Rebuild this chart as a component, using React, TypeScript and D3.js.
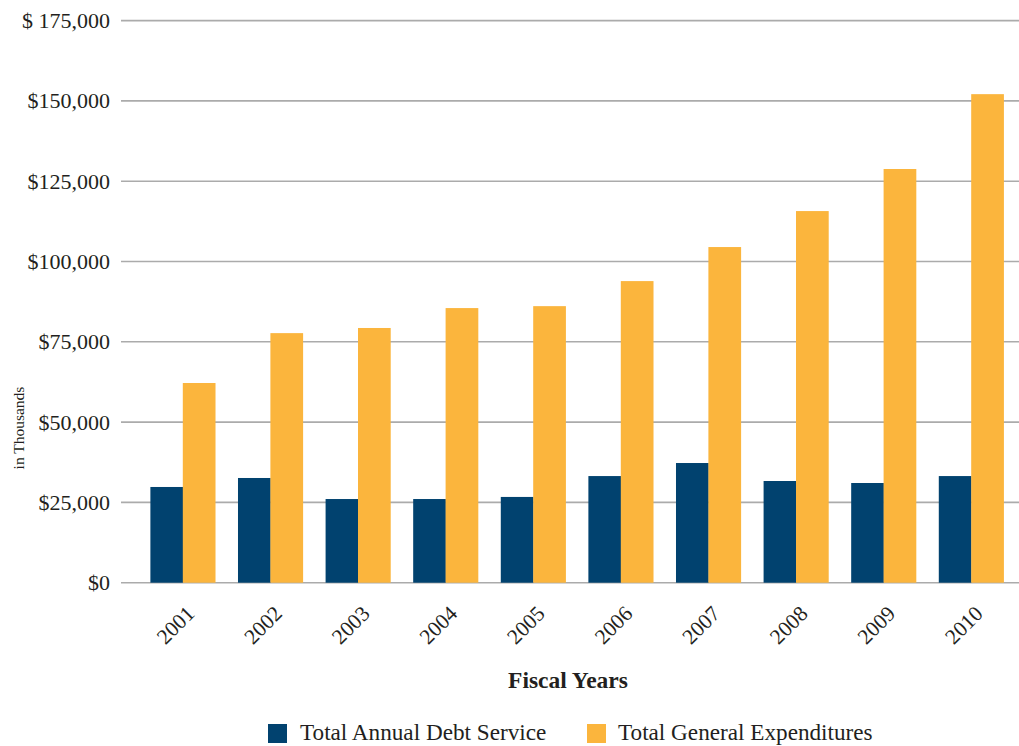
import React from "react";
import * as d3 from "d3";

const years = ["2001", "2002", "2003", "2004", "2005", "2006", "2007", "2008", "2009", "2010"];
const debtService = [29800, 32600, 26050, 26050, 26700, 33200, 37260, 31660, 31040, 33200];
const generalExpenditures = [62170, 77700, 79300, 85500, 86100, 93900, 104500, 115700, 128800, 152100];
const yTicks = [0, 25000, 50000, 75000, 100000, 125000, 150000, 175000];
const yTickLabels = ["$0", "$25,000", "$50,000", "$75,000", "$100,000", "$125,000", "$150,000", "$ 175,000"];
const seriesNames = ["Total Annual Debt Service", "Total General Expenditures"];
const seriesColors = ["#01426F", "#FBB53D"];

const W = 1019;
const H = 746;
const FONT = "'Liberation Serif', 'Times New Roman', serif";
const TEXT = "#231F20";

export default function App() {
  const y = d3.scaleLinear().domain([0, 175000]).range([582.7, 20.6]);
  const x = d3
    .scaleBand<string>()
    .domain(years)
    .range([139, 1015])
    .paddingInner(0.26)
    .paddingOuter(0.13);
  const sub = d3.scaleBand<number>().domain([0, 1]).range([0, x.bandwidth()]);
  const series = [debtService, generalExpenditures];

  return (
    <svg
      width={W}
      height={H}
      style={{ position: "absolute", left: 0, top: 0, background: "#fff" }}
      fontFamily={FONT}
    >
      <rect x={0} y={0} width={W} height={H} fill="#fff" />
      {yTicks.map((t) => (
        <line
          key={"g" + t}
          x1={121}
          x2={1019}
          y1={y(t)}
          y2={y(t)}
          stroke="#ababab"
          strokeWidth={1.6}
        />
      ))}
      {yTicks.map((t, i) => (
        <text
          key={"yl" + t}
          x={110}
          y={y(t)}
          dy="0.34em"
          textAnchor="end"
          fontSize={22}
          fill={TEXT}
        >
          {yTickLabels[i]}
        </text>
      ))}
      {series.map((vals, si) =>
        years.map((yr, i) => (
          <rect
            key={"b" + si + yr}
            x={(x(yr) as number) + (sub(si) as number)}
            y={y(vals[i])}
            width={sub.bandwidth() + 0.3}
            height={y(0) - y(vals[i])}
            fill={seriesColors[si]}
          />
        ))
      )}
      {years.map((yr) => {
        const cx = (x(yr) as number) + x.bandwidth() / 2 + 13;
        const cy = 615;
        return (
          <text
            key={"xl" + yr}
            x={cx}
            y={cy}
            textAnchor="end"
            fontSize={21.5}
            fill={TEXT}
            transform={`rotate(-45, ${cx}, ${cy})`}
          >
            {yr}
          </text>
        );
      })}
      <text x={568} y={688} textAnchor="middle" fontSize={23.5} fontWeight="bold" fill={TEXT}>
        Fiscal Years
      </text>
      <text
        x={24}
        y={428}
        textAnchor="middle"
        fontSize={15.5}
        fill={TEXT}
        transform="rotate(-90, 24, 428)"
      >
        in Thousands
      </text>
      <rect x={268} y={724} width={19} height={19} fill={seriesColors[0]} />
      <text x={300} y={740} fontSize={23.2} fill={TEXT}>
        {seriesNames[0]}
      </text>
      <rect x={587} y={724} width={19} height={19} fill={seriesColors[1]} />
      <text x={618} y={740} fontSize={23.2} fill={TEXT}>
        {seriesNames[1]}
      </text>
    </svg>
  );
}
